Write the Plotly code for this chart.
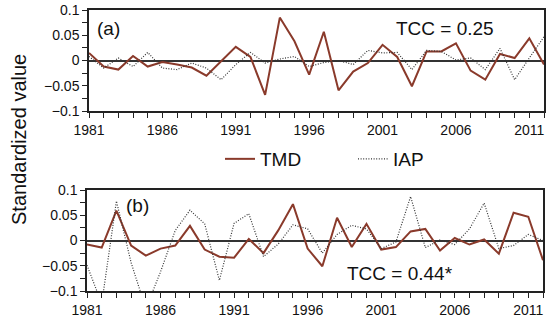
import plotly.graph_objects as go

years = list(range(1981, 2013))

tmd_a = [0.015, -0.012, -0.018, 0.009, -0.012, -0.003, -0.008, -0.014, -0.030, -0.002,
         0.027, 0.007, -0.068, 0.085, 0.038, -0.028, 0.057, -0.059, -0.022, -0.005,
         0.031, 0.007, -0.051, 0.018, 0.018, 0.034, -0.020, -0.038, 0.013, 0.005,
         0.044, -0.008]
iap_a = [0.008, -0.015, 0.005, -0.012, 0.016, -0.015, -0.018, -0.005, -0.015, -0.038,
         -0.008, 0.016, -0.005, 0.003, 0.008, -0.012, -0.004, 0.000, -0.008, 0.020,
         0.015, 0.016, -0.018, 0.020, 0.018, 0.001, 0.005, -0.018, 0.024, -0.038,
         0.005, 0.047]

tmd_b = [-0.008, -0.014, 0.059, -0.010, -0.030, -0.016, -0.010, 0.029, -0.018, -0.032,
         -0.034, 0.003, -0.025, 0.020, 0.072, -0.016, -0.051, 0.045, -0.013, 0.033,
         -0.018, -0.013, 0.018, 0.023, -0.020, 0.005, -0.008, 0.002, -0.026, 0.055,
         0.047, -0.039]
iap_b = [-0.049, -0.125, 0.078, -0.044, -0.135, -0.062, 0.020, 0.060, 0.033, -0.079,
         0.034, 0.053, -0.032, -0.007, 0.031, 0.023, -0.025, 0.012, 0.030, 0.023,
         -0.016, -0.003, 0.087, -0.014, 0.001, -0.008, 0.023, 0.074, -0.016, -0.010,
         0.012, 0.000]

x_ticks = [1981, 1986, 1991, 1996, 2001, 2006, 2011]
y_ticks = [-0.1, -0.05, 0, 0.05, 0.1]
y_tick_labels = ["\u22120.1", "\u22120.05", "0", "0.05", "0.1"]

TMD_COLOR = "#8a3a2b"
IAP_COLOR = "#333333"
IAP_DASH = "1px,1.6px"
FONT = "Liberation Sans, Arial, sans-serif"

fig = go.Figure()
fig.add_trace(go.Scatter(x=years, y=tmd_a, mode="lines", name="TMD",
                         line=dict(color=TMD_COLOR, width=2), xaxis="x", yaxis="y"))
fig.add_trace(go.Scatter(x=years, y=iap_a, mode="lines", name="IAP",
                         line=dict(color=IAP_COLOR, width=1.2, dash=IAP_DASH), xaxis="x", yaxis="y"))
fig.add_trace(go.Scatter(x=years, y=tmd_b, mode="lines", name="TMD", showlegend=False,
                         line=dict(color=TMD_COLOR, width=2), xaxis="x2", yaxis="y2"))
fig.add_trace(go.Scatter(x=years, y=iap_b, mode="lines", name="IAP", showlegend=False,
                         line=dict(color=IAP_COLOR, width=1.2, dash=IAP_DASH), xaxis="x2", yaxis="y2"))

W, H = 550, 320

def px(p):
    return p / W

def py(p):
    return 1 - p / H

def xaxis_cfg(anchor, left, right):
    return dict(domain=[px(left), px(right)], range=[1981, 2012], anchor=anchor,
                automargin=False,
                tickvals=x_ticks, ticks="outside", ticklen=5, tickwidth=1, tickcolor="#222",
                minor=dict(dtick=1, tick0=1981, ticks="outside", ticklen=5, tickcolor="#222"),
                showline=True, linecolor="#222", linewidth=1.5, mirror=True,
                showgrid=False, zeroline=False,
                tickfont=dict(family=FONT, size=14, color="#111"))

def yaxis_cfg(anchor, top, bottom):
    return dict(domain=[py(bottom), py(top)], range=[-0.1, 0.1], anchor=anchor,
                automargin=False,
                tickvals=y_ticks, ticktext=y_tick_labels,
                ticks="outside", ticklen=5, tickwidth=1, tickcolor="#222",
                minor=dict(dtick=0.025, tick0=0, ticks="outside", ticklen=5, tickcolor="#222"),
                showline=True, linecolor="#222", linewidth=1.5, mirror=True,
                showgrid=False, zeroline=True, zerolinecolor="#333", zerolinewidth=1.5,
                tickfont=dict(family=FONT, size=14, color="#111"))

fig.update_layout(
    template="none",
    width=W, height=H,
    margin=dict(l=0, r=0, t=0, b=0, pad=0),
    paper_bgcolor="white", plot_bgcolor="white",
    font=dict(family=FONT, color="#111"),
    xaxis=xaxis_cfg("y", 89, 544),
    yaxis=yaxis_cfg("x", 10, 111),
    xaxis2=xaxis_cfg("y2", 87, 543),
    yaxis2=yaxis_cfg("x2", 190, 291),
    showlegend=True,
    legend=dict(orientation="h", x=px(220), y=py(159), xanchor="left", yanchor="middle",
                font=dict(family=FONT, size=19, color="#111"),
                entrywidth=88, entrywidthmode="pixels", itemwidth=30,
                bgcolor="rgba(0,0,0,0)", borderwidth=0),
)

def ann(text, x, y, xanchor="left"):
    fig.add_annotation(text=text, x=px(x), y=py(y), xref="paper", yref="paper",
                       xanchor=xanchor, yanchor="middle", showarrow=False,
                       font=dict(family=FONT, size=19, color="#111"))

ann("(a)", 95, 29)
ann("TCC = 0.25", 445, 28, "center")
ann("(b)", 124, 205)
ann("TCC = 0.44*", 400, 273, "center")

fig.add_annotation(text="Standardized value", x=px(19), y=py(140), xref="paper", yref="paper",
                   textangle=-90, showarrow=False, xanchor="center", yanchor="middle",
                   font=dict(family=FONT, size=20, color="#111"))

fig.write_html("out.html",
               config={"displayModeBar": False},
               post_script="document.body.style.margin='0';document.body.style.overflow='hidden';")
